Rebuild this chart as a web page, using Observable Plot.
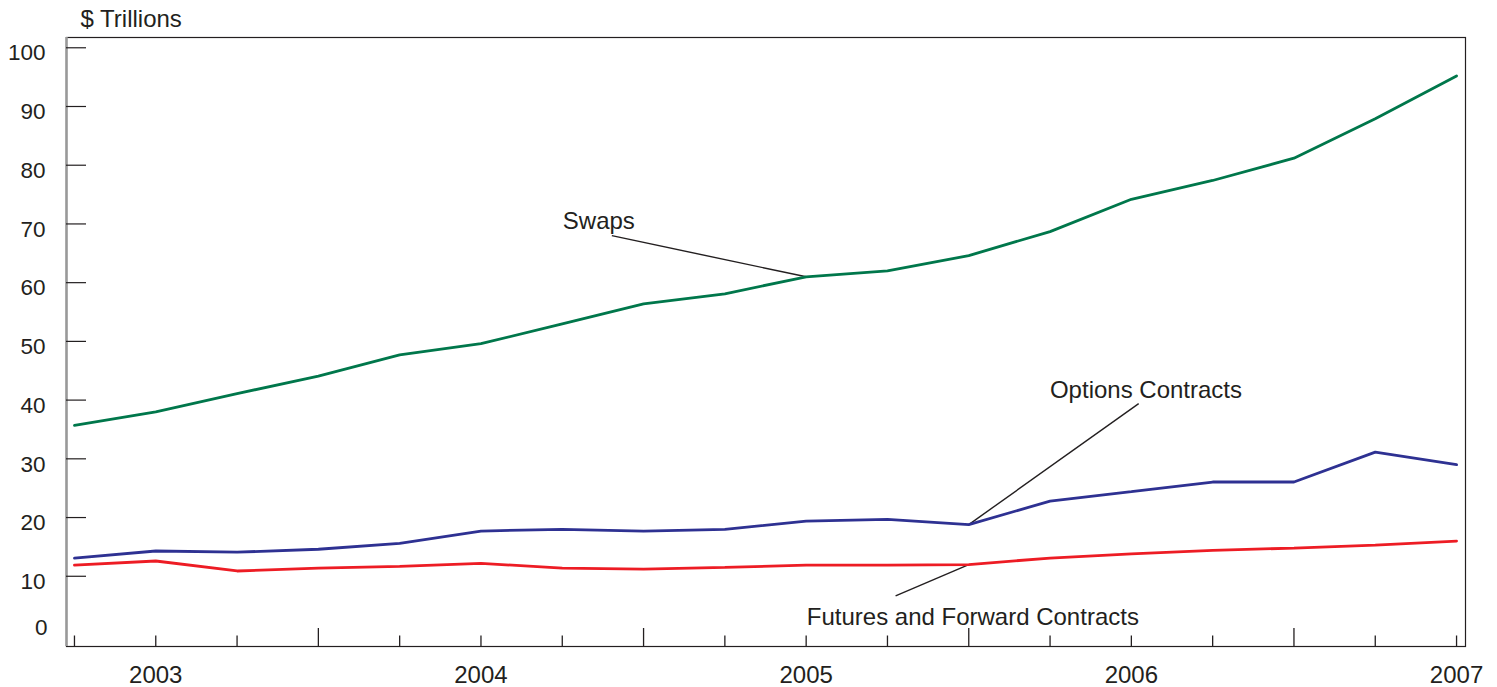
<!DOCTYPE html>
<html>
<head>
<meta charset="utf-8">
<script src="https://cdn.jsdelivr.net/npm/d3@7"></script>
<script src="https://cdn.jsdelivr.net/npm/@observablehq/plot@0.6"></script>
<style>
  html, body { margin: 0; padding: 0; background: #fff; }
  #chart svg { display: block; }
</style>
</head>
<body>
<div id="chart"></div>
<script>
// Quarterly observations (notional amounts, $ trillions)
const quarters = ["2002 Q4","2003 Q1","2003 Q2","2003 Q3","2003 Q4","2004 Q1","2004 Q2","2004 Q3","2004 Q4",
                  "2005 Q1","2005 Q2","2005 Q3","2005 Q4","2006 Q1","2006 Q2","2006 Q3","2006 Q4","2007 Q1"];
const swaps   = [35.7, 38.0, 41.1, 44.1, 47.7, 49.6, 53.0, 56.4, 58.1, 61.0, 62.0, 64.6, 68.7, 74.2, 77.4, 81.2, 87.9, 95.2];
const options = [13.1, 14.3, 14.1, 14.6, 15.6, 17.7, 18.0, 17.7, 18.0, 19.4, 19.7, 18.8, 22.8, 24.4, 26.05, 26.05, 31.15, 29.0];
const futures = [11.9, 12.6, 10.9, 11.4, 11.7, 12.2, 11.4, 11.2, 11.5, 11.9, 11.9, 12.0, 13.1, 13.8, 14.4, 14.8, 15.3, 16.0];
const yTickValues = [10, 20, 30, 40, 50, 60, 70, 80, 90, 100];
const seriesNames = ["Swaps", "Options Contracts", "Futures and Forward Contracts"];
const seriesColors = ["#00774b", "#2e3192", "#ed1c24"];
// label placement (in data units: quarter index, $ trillions) and leader-line anchors
const labelX = [6.45, 13.18, 11.05];
const labelY = [70.5, 41.6, 2.98];
const leaderFromX = [6.61, 13.09, 10.10];
const leaderFromY = [68.0, 39.4, 6.65];
const leaderToIndex = [9, 11, 11];

const W = 1497, H = 687;
const mL = 66, mR = 32, mT = 37, mB = 41;
const plotW = W - mL - mR, plotH = H - mT - mB;

const idx = quarters.map((q, i) => i);
const seriesValues = [swaps, options, futures];
const rows = seriesNames.flatMap((s, k) => seriesValues[k].map((v, i) => ({series: s, i, v})));

const yearTicks = idx.filter(i => quarters[i].endsWith("Q1"));
const longTicks = idx.filter(i => quarters[i].endsWith("Q3"));
const shortTicks = idx.filter(i => !quarters[i].endsWith("Q3"));

const labels = seriesNames.map((s, k) => ({text: s, x: labelX[k], y: labelY[k]}));
const leaders = seriesNames.map((s, k) => ({
  x1: leaderFromX[k], y1: leaderFromY[k],
  x2: leaderToIndex[k], y2: seriesValues[k][leaderToIndex[k]]
}));

const ink = "#231f20";
const xDomain = [-0.098, 17.11];

const chart = Plot.plot({
  width: W, height: H,
  marginLeft: mL, marginRight: mR, marginTop: mT, marginBottom: mB,
  style: {fontFamily: "'Liberation Sans', Arial, sans-serif", fontSize: "22px", color: ink, background: "#fff"},
  x: {type: "linear", domain: xDomain, axis: null},
  y: {domain: [-1.96, 101.75], axis: null},
  color: {domain: seriesNames, range: seriesColors},
  marks: [
    Plot.frame({stroke: ink, strokeWidth: 1.2}),
    Plot.ruleX([xDomain[0]], {stroke: "#999", strokeWidth: 2.5}),
    Plot.tickY(yTickValues, {y: d => d, insetRight: plotW - 20, stroke: ink, strokeWidth: 1.2}),
    Plot.tickX(shortTicks, {x: d => d, insetTop: plotH - 10.5, stroke: ink, strokeWidth: 1.3}),
    Plot.tickX(longTicks, {x: d => d, insetTop: plotH - 18, stroke: ink, strokeWidth: 1.3}),
    Plot.axisY({ticks: yTickValues, tickSize: 0, tickPadding: 21, dy: 5.5, fontSize: 22.5, fill: ink}),
    Plot.axisY({ticks: [0], tickSize: 0, tickPadding: 19, dy: -7, fontSize: 22.5, fill: ink}),
    Plot.axisX({ticks: yearTicks, tickSize: 0, tickPadding: 19, fontSize: 24, fill: ink,
                tickFormat: i => quarters[i].slice(0, 4)}),
    Plot.text(["$ Trillions"], {frameAnchor: "top-left", textAnchor: "start", lineAnchor: "bottom",
                                dx: 14, dy: -10.5, fontSize: 24, fill: ink}),
    Plot.link(leaders, {x1: "x1", y1: "y1", x2: "x2", y2: "y2", stroke: ink, strokeWidth: 1.4}),
    Plot.line(rows, {x: "i", y: "v", z: "series", stroke: "series", strokeWidth: 2.8, strokeLinejoin: "miter"}),
    Plot.text(labels, {x: "x", y: "y", text: "text", fontSize: 24, fill: ink})
  ]
});
document.getElementById("chart").append(chart);
</script>
</body>
</html>
